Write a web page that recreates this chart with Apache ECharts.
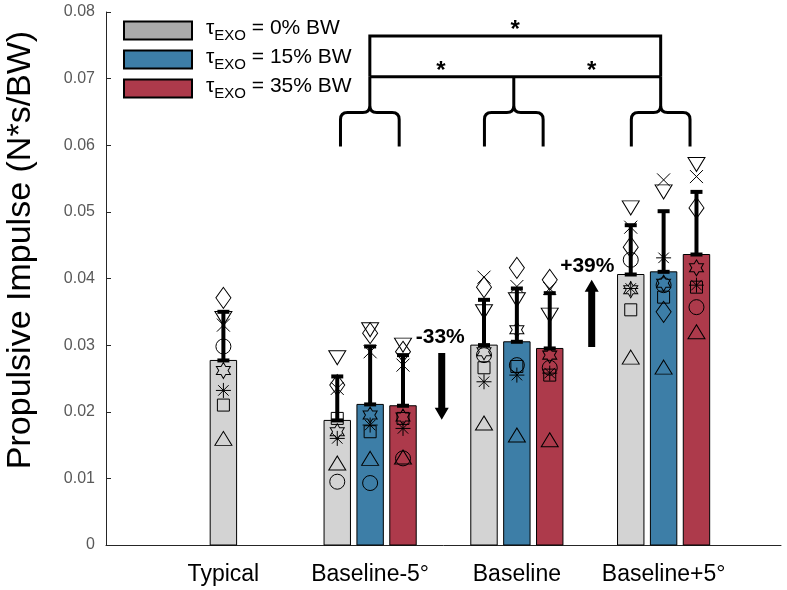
<!DOCTYPE html>
<html>
<head>
<meta charset="utf-8">
<script src="https://cdn.jsdelivr.net/npm/echarts@6/dist/echarts.min.js"></script>
<style>
html, body { margin: 0; padding: 0; background: #fff; }
#main { width: 787px; height: 590px; }
</style>
</head>
<body>
<div id="main"></div>
<script>
const categories = ['Typical', 'Baseline-5°', 'Baseline', 'Baseline+5°'];
const conditions = ['0% BW', '15% BW', '35% BW'];

// bar centres on the x scale (categories sit at 1..4)
const grayX = [1, 1.776, 2.776, 3.776];
const blueX = [2, 3, 4];
const redX = [2.224, 3.224, 4.224];

// means and upper error bar ends
const grayMean = [0.0277, 0.0187, 0.0300, 0.0406];
const grayUpper = [0.0350, 0.0253, 0.0368, 0.0480];
const blueMean = [0.0211, 0.0305, 0.0410];
const blueUpper = [0.0298, 0.0385, 0.0501];
const redMean = [0.0209, 0.0295, 0.0436];
const redUpper = [0.0285, 0.0378, 0.0530];

// individual participants, bar order:
// Typ, B-5 (0/15/35), B (0/15/35), B+5 (0/15/35)
const pointX = [1, 1.776, 2, 2.224, 2.776, 3, 3.224, 3.776, 4, 4.224];
const subjDiamond = [0.0371, 0.0240, 0.0318, 0.0290, 0.0387, 0.0416, 0.0398, 0.0447, 0.0350, 0.0506];
const subjTriDown = [0.0340, 0.0281, 0.0323, 0.0300, 0.0350, 0.0368, 0.0345, 0.0506, 0.0530, 0.0571];
const subjCross   = [0.0330, 0.0235, 0.0290, 0.0270, 0.0402, 0.0388, 0.0385, 0.0477, 0.0548, 0.0553];
const subjCircle  = [0.0298, 0.0095, 0.0093, 0.0130, 0.0285, 0.0270, 0.0266, 0.0428, 0.0390, 0.0357];
const subjHexa    = [0.0262, 0.0170, 0.0195, 0.0192, 0.0290, 0.0323, 0.0285, 0.0383, 0.0393, 0.0416];
const subjStar    = [0.0232, 0.0160, 0.0180, 0.0175, 0.0245, 0.0255, 0.0258, 0.0385, 0.0431, 0.0390];
const subjSquare  = [0.0210, 0.0190, 0.0170, 0.0190, 0.0266, 0.0268, 0.0255, 0.0353, 0.0372, 0.0387];
const subjTriUp   = [0.0160, 0.0123, 0.0130, 0.0132, 0.0183, 0.0165, 0.0158, 0.0282, 0.0267, 0.0320];

// significance brackets
const braceX = [1.998, 2.979, 3.98];
const braceY = [0.0598, 0.0649];     // brace foot, brace shoulder
const bracketY = [0.0703, 0.0764];   // lower and upper bracket lines
const starX = [2.989, 2.482, 3.51];
const starY = [0.0773, 0.0711, 0.0711];

// change arrows
const arrowX = [2.488, 3.51];
const arrowFrom = [0.0288, 0.0297];
const arrowTo = [0.0188, 0.0398];
const arrowText = ['-33%', '+39%'];
const arrowTextX = [2.478, 3.48];
const arrowTextY = [0.0312, 0.0418];

const FONT = 'Liberation Sans, Arial, sans-serif';
const barColors = ['#d3d3d3', '#3d7ea7', '#ad3a4b'];
const legendColors = ['#aaaaaa', '#3d7ea7', '#ad3a4b'];

const chart = echarts.init(document.getElementById('main'));

function zip(xs, a, b) {
  return xs.map((x, i) => [x, a[i], b[i]]);
}

function barItem(params, api) {
  const x = api.value(0), v = api.value(1);
  const p0 = api.coord([x - 0.09, v]);
  const p1 = api.coord([x + 0.09, 0]);
  return {
    type: 'rect',
    shape: { x: p0[0], y: p0[1], width: p1[0] - p0[0], height: p1[1] - p0[1] },
    style: { fill: api.visual('color'), stroke: '#000', lineWidth: 1 }
  };
}

function errItem(params, api) {
  const x = api.value(0);
  const a = api.coord([x, api.value(1)]);
  const b = api.coord([x, api.value(2)]);
  const st = { stroke: '#000', lineWidth: 4 };
  return {
    type: 'group',
    children: [
      { type: 'line', shape: { x1: a[0], y1: a[1], x2: b[0], y2: b[1] }, style: st },
      { type: 'line', shape: { x1: b[0] - 6, y1: b[1], x2: b[0] + 6, y2: b[1] }, style: st },
      { type: 'line', shape: { x1: a[0] - 6, y1: a[1], x2: a[0] + 6, y2: a[1] }, style: st }
    ]
  };
}

function annoItem(params, api) {
  const kids = [];
  const line = { stroke: '#000', lineWidth: 3, fill: null };
  // curly braces under each condition group
  braceX.forEach(cx => {
    const c = api.coord([cx, braceY[1]]);
    const l = api.coord([cx - 0.2, braceY[0]]);
    const r = api.coord([cx + 0.2, braceY[0]]);
    const top = api.coord([cx, bracketY[0]]);
    const rr = 7;
    const d = 'M' + l[0] + ',' + l[1] + 'L' + l[0] + ',' + (c[1] + rr) +
      'Q' + l[0] + ',' + c[1] + ' ' + (l[0] + rr) + ',' + c[1] +
      'L' + (c[0] - rr) + ',' + c[1] + 'Q' + c[0] + ',' + c[1] + ' ' + c[0] + ',' + (c[1] - rr) +
      'M' + r[0] + ',' + r[1] + 'L' + r[0] + ',' + (c[1] + rr) +
      'Q' + r[0] + ',' + c[1] + ' ' + (r[0] - rr) + ',' + c[1] +
      'L' + (c[0] + rr) + ',' + c[1] + 'Q' + c[0] + ',' + c[1] + ' ' + c[0] + ',' + (c[1] - rr) +
      'L' + top[0] + ',' + top[1];
    kids.push({ type: 'path', shape: { pathData: d }, style: line });
  });
  const a = api.coord([braceX[0], bracketY[0]]);
  const b = api.coord([braceX[2], bracketY[0]]);
  const t = api.coord([braceX[0], bracketY[1]]);
  kids.push({ type: 'line', shape: { x1: a[0], y1: a[1], x2: b[0], y2: b[1] }, style: line });
  kids.push({ type: 'polyline', shape: { points: [[a[0], a[1]], [a[0], t[1]], [b[0], t[1]], [b[0], b[1]]] }, style: line });
  starX.forEach((sx, i) => {
    const p = api.coord([sx, starY[i]]);
    kids.push({ type: 'text', x: p[0], y: p[1], style: { text: '*', fontSize: 24, fontWeight: 'bold', fontFamily: FONT, fill: '#000', align: 'center', verticalAlign: 'middle' } });
  });
  // arrows
  arrowX.forEach((ax, i) => {
    const s = api.coord([ax, arrowFrom[i]]);
    const e = api.coord([ax, arrowTo[i]]);
    const dir = e[1] > s[1] ? 1 : -1;
    const hb = e[1] - dir * 12;
    kids.push({
      type: 'polygon',
      shape: { points: [[s[0] - 3.5, s[1]], [s[0] + 3.5, s[1]], [s[0] + 3.5, hb], [s[0] + 7, hb], [s[0], e[1]], [s[0] - 7, hb], [s[0] - 3.5, hb]] },
      style: { fill: '#000' }
    });
    const tp = api.coord([arrowTextX[i], arrowTextY[i]]);
    kids.push({ type: 'text', x: tp[0], y: tp[1], style: { text: arrowText[i], fontSize: 21, fontWeight: 'bold', fontFamily: FONT, fill: '#000', align: 'center', verticalAlign: 'middle' } });
  });
  return { type: 'group', children: kids };
}

const markerDefs = [
  { data: subjDiamond, symbol: 'diamond', size: [15, 21] },
  { data: subjTriDown, symbol: 'path://M0,0L10,0L5,8.2Z', size: [17, 14] },
  { data: subjCross, symbol: 'path://M0,0L10,10M10,0L0,10', size: [13, 13] },
  { data: subjCircle, symbol: 'circle', size: 15 },
  { data: subjHexa, symbol: 'path://M5,0L6.443,2.5L9.33,2.5L7.887,5L9.33,7.5L6.443,7.5L5,10L3.557,7.5L0.67,7.5L2.113,5L0.67,2.5L3.557,2.5Z', size: [14, 16] },
  { data: subjStar, symbol: 'path://M5,0L5,10M0,5L10,5M1.5,1.5L8.5,8.5M8.5,1.5L1.5,8.5', size: 15 },
  { data: subjSquare, symbol: 'rect', size: 12 },
  { data: subjTriUp, symbol: 'path://M5,0L10,8.2L0,8.2Z', size: [17, 14] }
];

const barSeries = [
  [grayX, grayMean, grayUpper],
  [blueX, blueMean, blueUpper],
  [redX, redMean, redUpper]
].map((s, i) => ({
  name: conditions[i],
  type: 'custom',
  renderItem: barItem,
  itemStyle: { color: barColors[i] },
  data: zip(s[0], s[1], s[2]),
  z: 1
}));

const errSeries = [
  [grayX, grayMean, grayUpper],
  [blueX, blueMean, blueUpper],
  [redX, redMean, redUpper]
].map(s => ({
  type: 'custom',
  renderItem: errItem,
  data: zip(s[0], s[1], s[2]),
  z: 4
}));

const markerSeries = markerDefs.map(m => ({
  type: 'scatter',
  symbol: m.symbol,
  symbolSize: m.size,
  data: pointX.map((x, i) => [x, m.data[i]]),
  itemStyle: { color: 'rgba(0,0,0,0)', borderColor: '#000', borderWidth: 1, opacity: 1 },
  z: 3
}));

const option = {
  animation: false,
  grid: { left: 106, right: 6, top: 12, bottom: 45 },
  legend: {
    orient: 'vertical',
    left: 123,
    top: 18,
    padding: 0,
    itemWidth: 68,
    itemHeight: 18,
    itemGap: 4,
    selectedMode: false,
    data: conditions.map((c, i) => ({
      name: c, icon: 'rect',
      itemStyle: { color: legendColors[i], borderColor: '#000', borderWidth: 2 }
    })),
    formatter: n => '{t|τ}{s|EXO}{a| = ' + n + '}',
    textStyle: {
      fontFamily: FONT,
      rich: {
        t: { fontSize: 21, fontFamily: FONT, color: '#000', lineHeight: 20, padding: [0, 0, 4, 9] },
        s: { fontSize: 15, fontFamily: FONT, color: '#000', lineHeight: 14, padding: [10, 0, 0, 0] },
        a: { fontSize: 21, fontFamily: FONT, color: '#000', lineHeight: 20, padding: [0, 0, 4, 0] }
      }
    }
  },
  xAxis: {
    type: 'value',
    min: 0.2,
    max: 4.8,
    interval: 0.2,
    splitLine: { show: false },
    axisTick: { show: false },
    axisLine: { show: true, lineStyle: { color: '#262626', width: 1 } },
    axisLabel: {
      color: '#000',
      fontSize: 23,
      fontFamily: FONT,
      margin: 18,
      formatter: v => {
        const k = Math.round(v);
        return Math.abs(v - k) < 1e-6 && k >= 1 && k <= 4 ? categories[k - 1] : '';
      }
    }
  },
  yAxis: {
    type: 'value',
    min: 0,
    max: 0.08,
    interval: 0.01,
    splitLine: { show: false },
    axisLine: { show: true, lineStyle: { color: '#262626', width: 1 } },
    axisTick: { show: true, inside: true, length: 5, lineStyle: { color: '#262626' } },
    axisLabel: {
      color: '#595959',
      fontSize: 16,
      fontFamily: FONT,
      margin: 11,
      formatter: v => v === 0 ? '0' : v.toFixed(2)
    }
  },
  graphic: [{
    type: 'text',
    x: 21,
    y: 250,
    rotation: Math.PI / 2,
    style: {
      text: 'Propulsive Impulse (N*s/BW)',
      fontSize: 34,
      fontFamily: FONT,
      fill: '#000',
      align: 'center',
      verticalAlign: 'middle'
    }
  }],
  series: barSeries.concat(markerSeries, errSeries, [{
    type: 'custom',
    renderItem: annoItem,
    data: [[1, 0]],
    silent: true,
    z: 5
  }])
};

chart.setOption(option);
</script>
</body>
</html>
